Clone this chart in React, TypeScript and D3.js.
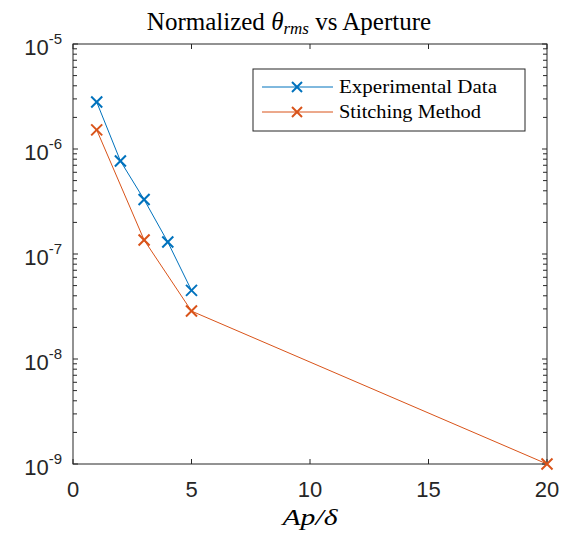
import React from "react";
import * as d3 from "d3";

const expX = [1, 2, 3, 4, 5];
const expY = [2.8e-6, 7.7e-7, 3.3e-7, 1.3e-7, 4.5e-8];
const stitchX = [1, 3, 5, 20];
const stitchY = [1.52e-6, 1.36e-7, 2.86e-8, 1.0e-9];
const xTicks = [0, 5, 10, 15, 20];
const yDecades = [-5, -6, -7, -8, -9];
const seriesNames = ["Experimental Data", "Stitching Method"];
const colors = ["#0072BD", "#D95319"];

const W = 564, H = 534;
const L = 73, R = 547, T = 44, B = 464;

export default function App() {
  const x = d3.scaleLinear().domain([0, 20]).range([L, R]);
  const y = d3.scaleLog().domain([1e-9, 1e-5]).range([B, T]);
  const line = d3.line<[number, number]>().x(d => x(d[0])).y(d => y(d[1]));
  const exp: [number, number][] = expX.map((v, i) => [v, expY[i]]);
  const st: [number, number][] = stitchX.map((v, i) => [v, stitchY[i]]);
  const axisColor = "#262626";
  const minor: number[] = [];
  for (let e = -9; e < -5; e++) for (let k = 2; k <= 9; k++) minor.push(k * Math.pow(10, e));
  const sans = "'Liberation Sans', Arial, sans-serif";
  const serif = "'Liberation Serif', 'Times New Roman', serif";
  const mk = (cx: number, cy: number, c: string, key: string, s = 5.5) => (
    <g key={key} stroke={c} strokeWidth={2}>
      <line x1={cx - s} y1={cy - s} x2={cx + s} y2={cy + s} />
      <line x1={cx - s} y1={cy + s} x2={cx + s} y2={cy - s} />
    </g>
  );
  const legendLens = [158, 142];
  return (
    <svg width={W} height={H} style={{ position: "absolute", left: 0, top: 0, background: "#fff" }}>
      <rect x={0} y={0} width={W} height={H} fill="#fff" />
      {/* title */}
      <text x={289} y={30} textAnchor="middle" fontFamily={serif} fontSize={25} fill="#000">
        Normalized <tspan fontStyle="italic">θ</tspan>
        <tspan fontStyle="italic" fontSize={17} dy={4}>rms</tspan>
        <tspan dy={-4}> vs Aperture</tspan>
      </text>
      {/* axes box */}
      <rect x={L} y={T} width={R - L} height={B - T} fill="none" stroke={axisColor} strokeWidth={1} />
      {/* x ticks */}
      {xTicks.map(t => (
        <g key={"xt" + t}>
          <line x1={x(t)} x2={x(t)} y1={B} y2={B - 5} stroke={axisColor} />
          <line x1={x(t)} x2={x(t)} y1={T} y2={T + 5} stroke={axisColor} />
          <text x={x(t)} y={497} textAnchor="middle" fontFamily={sans} fontSize={22} fill="#262626">{t}</text>
        </g>
      ))}
      {/* y ticks */}
      {yDecades.map(e => {
        const yy = y(Math.pow(10, e));
        return (
          <g key={"yt" + e}>
            <line x1={L} x2={L + 5} y1={yy} y2={yy} stroke={axisColor} />
            <line x1={R} x2={R - 5} y1={yy} y2={yy} stroke={axisColor} />
            <text x={62} y={yy + 11} textAnchor="end" fontFamily={sans} fontSize={22} fill="#262626">
              10<tspan fontSize={15} dy={-11}>-{-e}</tspan>
            </text>
          </g>
        );
      })}
      {minor.map((v, i) => (
        <g key={"mn" + i}>
          <line x1={L} x2={L + 4} y1={y(v)} y2={y(v)} stroke={axisColor} />
          <line x1={R} x2={R - 4} y1={y(v)} y2={y(v)} stroke={axisColor} />
        </g>
      ))}
      {/* series */}
      <path d={line(st) || ""} fill="none" stroke={colors[1]} strokeWidth={1} />
      <path d={line(exp) || ""} fill="none" stroke={colors[0]} strokeWidth={1} />
      {st.map((d, i) => mk(x(d[0]), y(d[1]), colors[1], "s" + i))}
      {exp.map((d, i) => mk(x(d[0]), y(d[1]), colors[0], "e" + i))}
      {/* legend */}
      <rect x={253} y={69} width={272} height={62} fill="#fff" stroke={axisColor} strokeWidth={1} />
      {seriesNames.map((n, i) => {
        const ly = 87 + i * 25;
        return (
          <g key={"lg" + i}>
            <line x1={262} x2={333} y1={ly} y2={ly} stroke={colors[i]} strokeWidth={1} />
            {mk(297, ly, colors[i], "lm" + i, 5)}
            <text x={339} y={ly + 6} fontFamily={serif} fontSize={19} fill="#000"
              textLength={legendLens[i]} lengthAdjust="spacingAndGlyphs">{n}</text>
          </g>
        );
      })}
      {/* x label */}
      <text x={310} y={525} textAnchor="middle" fontFamily={serif} fontSize={23} fontStyle="italic" fill="#000"
        textLength={55} lengthAdjust="spacingAndGlyphs">
        Ap/δ
      </text>
    </svg>
  );
}
